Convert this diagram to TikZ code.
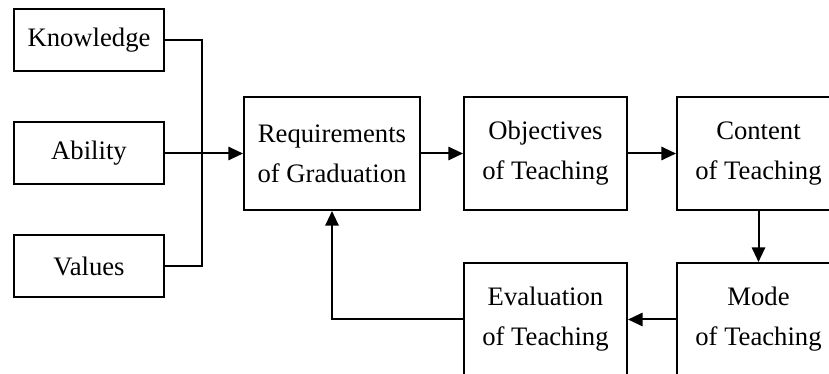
\documentclass[tikz,border=0pt]{standalone}
\usepackage{fontspec}
\setmainfont{Liberation Serif}
\usetikzlibrary{arrows.meta}

\begin{document}
\begin{tikzpicture}[x=0.75pt,y=0.75pt,yscale=-1,xscale=1,
  box/.style={draw, line width=1.5pt, inner sep=0.75pt, align=center, font=\fontsize{20}{30}\selectfont},
  small/.style={box, minimum width=112.5pt, minimum height=46.5pt},
  big/.style={box, minimum width=122.25pt, minimum height=84.75pt},
  link/.style={line width=1.5pt},
  arr/.style={link, -{Triangle[length=11pt,width=10pt]}}]
\path [use as bounding box, clip] (0,0) rectangle (829,374);

% Text Node
\node [small] (know) at (89,40) {Knowledge};
% Text Node
\node [small] (abil) at (89,153.5) {Ability};
% Text Node
\node [small] (vals) at (89,266.5) {Values};
% Text Node
\node [big, minimum width=132pt] (req) at (332,153.5) {Requirements\\of Graduation};
% Text Node
\node [big] (obj) at (545.5,153.5) {Objectives\\of Teaching};
% Text Node
\node [big] (cont) at (758.5,153.5) {Content\\of Teaching};
% Text Node
\node [big] (mode) at (758.5,319.5) {Mode\\of Teaching};
% Text Node
\node [big] (eval) at (545.5,319.5) {Evaluation\\of Teaching};
\coordinate (join) at (202,153.5);

%Straight Lines
\draw [link] (know.east) -| (join);
\draw [link] (vals.east) -| (join);
\draw [arr] (abil.east) -- (req.west);
\draw [arr] (req.east) -- (obj.west);
\draw [arr] (obj.east) -- (cont.west);
\draw [arr] (cont.south) -- (mode.north);
\draw [arr] (mode.west) -- (eval.east);
\draw [arr] (eval.west) -| (req.south);
\end{tikzpicture}
\end{document}
